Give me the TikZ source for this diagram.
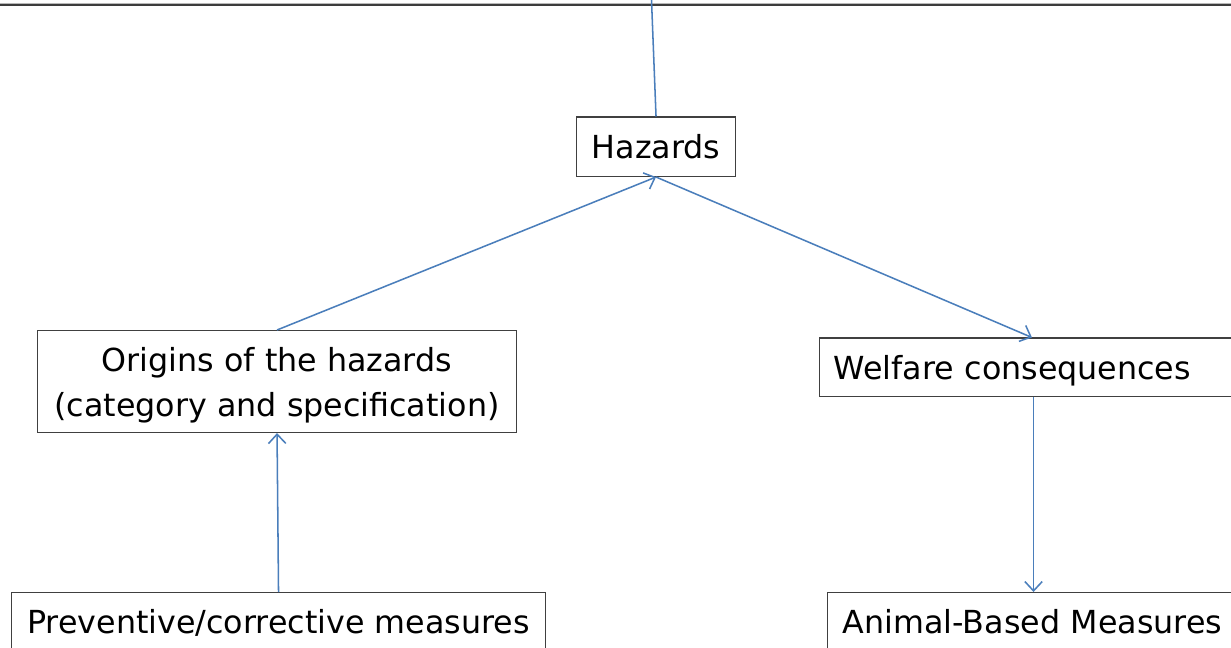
\documentclass[tikz,border=0pt]{standalone}
\usepackage{fontspec}
\setmainfont{DejaVu Sans}
\usetikzlibrary{arrows.meta}
\definecolor{conblue}{HTML}{4A7EBB}
\definecolor{boxgray}{HTML}{404040}
\definecolor{topgray}{HTML}{3C3C3C}
\definecolor{toplight}{HTML}{B8B8B8}
\tikzset{
  box/.style={draw=boxgray, line width=0.8pt, inner xsep=0pt, inner ysep=0pt,
    font=\fontsize{23.8}{33.75}\selectfont},
  conn/.style={draw=conblue, line width=1.15pt},
  arr/.style={conn, -{Straight Barb[length=7pt,width=13pt,line width=1.15pt]}},
}
\begin{document}
\begin{tikzpicture}[x=0.75pt,y=-0.75pt]
\useasboundingbox (0,0) rectangle (1231,648);
\clip (0,0) rectangle (1231,648);
\fill[white] (0,0) rectangle (1231,648);
% top frame line
\draw[toplight, line width=0.8pt] (0,3.6) -- (1231,3.6);
\draw[topgray, line width=1.3pt] (0,5.2) -- (1231,5.2);
% nodes
\node[box, anchor=north west, minimum width=119.25pt, text height=31.2pt, text depth=13.4pt]
  (hazards) at (576,116.5) {Hazards};
\node[box, anchor=north west, minimum width=359.25pt, minimum height=76.5pt, align=center]
  (origins) at (37,330) {\rule{0pt}{23.5pt}Origins of the hazards\\(category and specification)};
\node[box, anchor=north west, inner xsep=10.6pt, text width=297.4pt, align=left,
  text height=31.1pt, text depth=12.4pt]
  (welfare) at (819,337.5) {Welfare consequences};
\node[box, anchor=north west, minimum width=400.5pt, text height=30.6pt, text depth=40pt]
  (preventive) at (11,592) {Preventive/corrective measures};
\node[box, anchor=north west, inner xsep=11.4pt, text width=286.2pt, align=left,
  text height=30.6pt, text depth=40pt]
  (animal) at (827,592) {Animal-Based Measures};
% connectors
\coordinate (above) at (651.5,0);
\draw[conn] (above) -- (hazards.north);
\draw[arr] (origins.north) -- (hazards.south);
\draw[arr] (hazards.south) -- (welfare.north);
\draw[arr] (welfare.south -| animal.north) -- (animal.north);
\draw[arr] (preventive.north) -- (origins.south);
\end{tikzpicture}
\end{document}
